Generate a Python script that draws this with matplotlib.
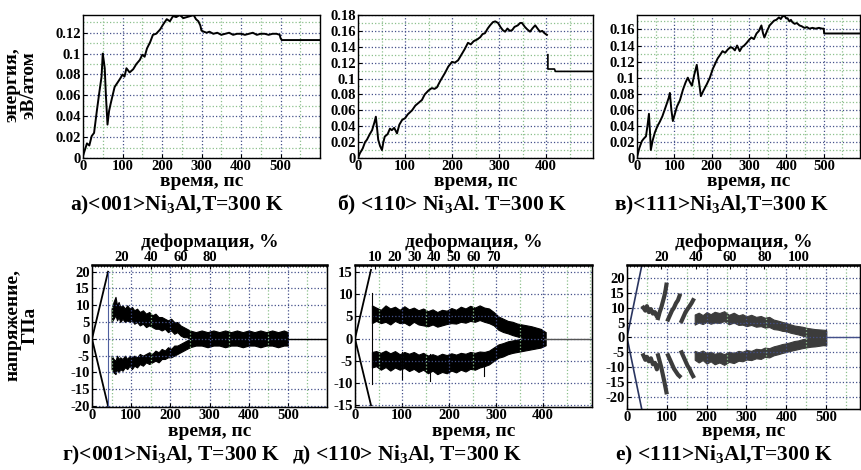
import numpy as np
import matplotlib
matplotlib.use('Agg')
import matplotlib.pyplot as plt
from matplotlib.ticker import MultipleLocator, FuncFormatter

plt.rcParams['font.family'] = ['Liberation Serif', 'DejaVu Serif']
plt.rcParams['font.weight'] = 'bold'
plt.rcParams['mathtext.fontset'] = 'custom'
plt.rcParams['mathtext.rm'] = 'Liberation Serif:bold'
plt.rcParams['mathtext.it'] = 'Liberation Serif:bold'
plt.rcParams['mathtext.default'] = 'rm'

# --- energy curves (time, eV/atom) ---
energy_a = [(0, 0.002), (5, 0.008), (10, 0.014), (16, 0.012), (22, 0.021), (28, 0.024),
            (35, 0.045), (41, 0.062), (47, 0.078), (50, 0.1), (53, 0.092), (55, 0.086),
            (58, 0.06), (62, 0.032), (66, 0.045), (70, 0.052), (75, 0.06), (80, 0.068),
            (87, 0.072), (94, 0.076), (100, 0.08), (105, 0.078), (110, 0.086), (118, 0.082),
            (127, 0.085), (135, 0.09), (144, 0.094), (150, 0.099), (156, 0.097), (162, 0.105),
            (170, 0.111), (177, 0.118), (185, 0.119), (195, 0.123), (203, 0.128), (212, 0.133),
            (220, 0.131), (228, 0.136), (236, 0.135), (245, 0.137), (254, 0.134), (263, 0.135),
            (272, 0.136), (280, 0.137), (286, 0.133), (292, 0.131), (297, 0.127), (300, 0.122),
            (306, 0.121), (313, 0.12), (320, 0.121), (330, 0.119), (340, 0.12), (350, 0.118),
            (360, 0.119), (370, 0.12), (380, 0.118), (390, 0.119), (400, 0.119), (410, 0.118),
            (420, 0.119), (430, 0.12), (440, 0.118), (450, 0.119), (460, 0.119), (470, 0.118),
            (480, 0.119), (490, 0.119), (498, 0.118), (500, 0.115), (503, 0.113), (600, 0.113)]

energy_b = [(0, 0.0), (4, 0.006), (10, 0.012), (15, 0.02), (19, 0.023), (25, 0.03), (30, 0.035),
            (35, 0.045), (38, 0.052), (41, 0.035), (43, 0.023), (47, 0.015), (51, 0.01), (54, 0.02),
            (57, 0.027), (63, 0.03), (68, 0.037), (72, 0.035), (77, 0.038), (83, 0.031), (88, 0.042),
            (94, 0.048), (100, 0.05), (106, 0.055), (115, 0.06), (122, 0.066), (130, 0.07),
            (136, 0.073), (142, 0.08), (150, 0.085), (157, 0.088), (163, 0.087), (168, 0.089),
            (175, 0.097), (180, 0.102), (185, 0.107), (192, 0.115), (200, 0.121), (206, 0.12),
            (213, 0.123), (220, 0.13), (227, 0.137), (234, 0.145), (240, 0.143), (246, 0.147),
            (253, 0.149), (260, 0.152), (265, 0.156), (270, 0.157), (276, 0.163), (281, 0.167),
            (287, 0.171), (292, 0.172), (298, 0.17), (303, 0.165), (308, 0.161), (313, 0.159),
            (318, 0.163), (323, 0.16), (328, 0.161), (333, 0.165), (340, 0.167), (345, 0.17),
            (349, 0.17), (355, 0.165), (360, 0.162), (366, 0.159), (371, 0.163), (377, 0.167),
            (382, 0.163), (387, 0.159), (392, 0.16), (397, 0.157), (402, 0.155)]
energy_b_tail = [(404, 0.13), (404, 0.112), (418, 0.112), (420, 0.109), (500, 0.109)]

energy_c = [(0, 0.001), (6, 0.012), (13, 0.021), (18, 0.024), (24, 0.027), (28, 0.04), (32, 0.055),
            (35, 0.03), (37, 0.01), (42, 0.022), (48, 0.032), (55, 0.04), (61, 0.045), (68, 0.052),
            (74, 0.06), (80, 0.068), (85, 0.075), (88, 0.081), (92, 0.06), (96, 0.046), (102, 0.056),
            (107, 0.064), (115, 0.072), (123, 0.085), (130, 0.094), (136, 0.1), (141, 0.095),
            (147, 0.09), (153, 0.103), (160, 0.116), (165, 0.098), (171, 0.077), (178, 0.084),
            (187, 0.092), (195, 0.1), (203, 0.111), (210, 0.118), (216, 0.124), (222, 0.128),
            (229, 0.133), (236, 0.131), (243, 0.135), (250, 0.138), (256, 0.137), (262, 0.134),
            (268, 0.14), (275, 0.133), (281, 0.138), (287, 0.14), (293, 0.143), (300, 0.147),
            (306, 0.15), (313, 0.148), (320, 0.155), (326, 0.158), (333, 0.165), (337, 0.156),
            (341, 0.15), (348, 0.158), (355, 0.165), (361, 0.168), (367, 0.171), (373, 0.172),
            (380, 0.175), (385, 0.173), (389, 0.176), (395, 0.177), (399, 0.174), (403, 0.174),
            (408, 0.17), (412, 0.172), (416, 0.169), (422, 0.167), (428, 0.168), (435, 0.165),
            (441, 0.164), (448, 0.162), (455, 0.163), (461, 0.161), (470, 0.162), (478, 0.161),
            (487, 0.162), (496, 0.161), (500, 0.161), (501, 0.155), (600, 0.155)]

# --- stress: initial elastic ramps (time, GPa) ---
ramp_d = [(41, 20), (41, -20)]
ramp_e = [(34, 15.5), (34, -15)]
ramp_f = [(40, 26), (40, -26)]

# --- stress bands (time, upper edge, lower edge) ---
band_d_up = [(50, 9, 5), (55, 11, 6), (60, 12.5, 7), (64, 10, 5.5), (68, 11, 6.5), (72, 9.5, 5),
             (78, 10, 6), (84, 9, 5), (90, 10, 5.5), (96, 9, 5), (102, 9.5, 5.5), (108, 8.5, 4.5),
             (115, 9, 5), (122, 8, 4), (130, 8.5, 4.5), (138, 7.5, 3.5), (146, 8, 4), (154, 7, 3.5),
             (162, 7.5, 3), (170, 6.5, 3), (178, 6.5, 2.5), (186, 6, 3), (194, 5.5, 2), (202, 6, 2.5),
             (210, 5, 1.5), (218, 5, 2), (226, 4, 1), (234, 3.5, 0.5), (242, 3, 0.5), (250, 2.5, 0)]
band_d_lo = [(50, -5, -9), (55, -6, -10), (60, -6.5, -10.5), (64, -5, -9), (68, -6, -10),
             (72, -5.5, -9), (78, -6, -9.5), (84, -5, -8.5), (90, -6, -9), (96, -5, -8),
             (102, -5.5, -9), (108, -5, -8), (115, -5.5, -8.5), (122, -4.5, -7.5), (130, -5, -8),
             (138, -4.5, -7), (146, -4, -7.5), (154, -4.5, -7), (162, -3.5, -6.5), (170, -4, -7),
             (178, -3, -6), (186, -3.5, -6), (194, -2.5, -5.5), (202, -3, -5.5), (210, -2, -5),
             (218, -2, -4.5), (226, -1.5, -4), (234, -1, -3.5), (242, -0.5, -3), (250, 0, -2.5)]
band_d_mid = [(250, 2.5, -2.5), (265, 2, -2), (280, 2.5, -2), (295, 2, -2.5), (310, 2.5, -2),
              (325, 2, -2), (340, 2.5, -2.5), (355, 2, -2), (370, 2.5, -2), (385, 2, -2.5),
              (400, 2.5, -2), (415, 2, -2), (430, 2.5, -2.5), (445, 2, -2), (460, 2.5, -2),
              (475, 2, -2.5), (490, 2.5, -2), (500, 2, -2)]

band_e_up = [(36, 7.5, 3.5), (45, 7, 4), (55, 6.5, 3.5), (65, 7.5, 3.8), (75, 6.8, 3.2), (85, 7.2, 4),
             (95, 6.5, 3.5), (105, 7.3, 3.6), (115, 6.6, 3), (125, 7, 3.8), (135, 6.4, 3.2),
             (145, 6.8, 3), (155, 6.2, 2.8), (165, 6.6, 3.2), (175, 6, 2.7), (185, 6.5, 3),
             (195, 6.3, 3.3), (205, 6.9, 3.5), (215, 6.5, 3.4), (225, 7.2, 3.8), (235, 6.8, 3.6),
             (245, 7.4, 4), (255, 7, 3.8), (265, 7.5, 4.2), (275, 7, 3.8), (285, 6.8, 3.5),
             (295, 6, 3), (305, 5, 2), (315, 4.5, 1.5), (325, 4, 1.2), (335, 3.8, 0.8),
             (345, 3.4, 0.5), (355, 3.2, 0.2), (365, 3, 0), (375, 2.8, -0.3), (385, 2.5, -0.5),
             (395, 2.2, -1), (405, 1.5, -1.5)]
band_e_lo = [(36, -3, -6.5), (45, -2.8, -6.2), (55, -3.2, -7), (65, -2.7, -6.4), (75, -3.3, -7.2),
             (85, -2.8, -6.5), (95, -3.5, -7), (105, -3, -6.6), (115, -3.4, -7.3), (125, -3, -6.8),
             (135, -3.6, -7.5), (145, -3.2, -7), (155, -3.8, -7.8), (165, -3.5, -7.2),
             (175, -3.9, -8), (185, -3.4, -7.5), (195, -3.7, -7.8), (205, -3.3, -7.2),
             (215, -3.6, -7.6), (225, -3.2, -7), (235, -3.4, -7.4), (245, -3, -6.8), (255, -3.2, -7),
             (265, -2.9, -6.5), (275, -3, -6.2), (285, -2.7, -5.8), (295, -2, -5), (305, -1.3, -4.3),
             (315, -1, -4), (325, -0.6, -3.5), (335, -0.4, -3.2), (345, -0.2, -3), (355, 0, -2.8),
             (365, 0.2, -2.6), (375, 0.4, -2.4), (385, 0.6, -2.2), (395, 1, -2), (405, 1.5, -1.5)]
spikes_e = [(36, 10.4, -10.2), (100, -3, -9), (160, -3.5, -9.5), (275, -3, -8.5)]

saw_f_up = [[(41, 10), (46, 9), (50, 10.5), (55, 8.5), (60, 9.5), (65, 8), (70, 8.5), (75, 7), (78, 7.5)],
            [(78, 6.5), (82, 8.5), (86, 10), (90, 12), (94, 14), (97, 16), (99, 17.7)],
            [(103, 6), (108, 7.5), (113, 9), (118, 10), (123, 11.5), (128, 12.5), (132, 14)],
            [(137, 5.5), (142, 7), (147, 8.5), (152, 9.5), (157, 10.5), (162, 11.5), (166, 12.5)]]
saw_f_lo = [[(41, -6), (46, -7.5), (50, -6.5), (55, -8), (60, -7), (65, -9), (70, -8.5), (75, -10.7), (78, -9.5)],
            [(78, -6), (82, -8), (86, -10), (90, -12.5), (94, -15), (97, -17), (99, -18.4)],
            [(103, -6), (108, -7.5), (113, -9), (118, -10.5), (123, -11.5), (128, -12.5), (132, -13)],
            [(137, -5), (142, -6.5), (147, -8), (152, -9.5), (157, -10.5), (162, -12), (166, -13)]]
band_f_up = [(170, 7.7, 4.3), (180, 8.3, 5), (190, 7.5, 4.5), (200, 8.5, 5.2), (210, 7.8, 4.6),
             (220, 8.6, 5), (232, 8.2, 4.9), (244, 8.8, 5.5), (256, 7.6, 4.4), (268, 8.3, 5),
             (280, 7.4, 4.2), (290, 7.8, 4.3), (300, 7.1, 3.8), (312, 7.6, 4.2), (324, 6.9, 3.6),
             (336, 7.2, 3.8), (346, 6.6, 3.3), (357, 6.9, 3.5), (368, 6, 2.8), (380, 5.6, 2.6),
             (390, 5.2, 2.2), (399, 4.9, 2.1), (410, 4.4, 1.6), (420, 4, 1.3), (430, 3.8, 1),
             (440, 3.6, 0.6), (452, 3.2, 0.2), (462, 3, -0.5), (472, 2.8, -1.2), (482, 2.7, -2),
             (492, 2.6, -2.5), (500, 2.5, -2.7)]
band_f_lo = [(170, -4.5, -7.5), (180, -5, -8.4), (190, -4.4, -7.6), (200, -5.2, -8.8), (210, -4.8, -8),
             (220, -5.5, -9), (232, -5, -8.4), (244, -5.6, -9.2), (256, -4.8, -8.2), (268, -5.2, -8.6),
             (280, -4.5, -7.8), (290, -4.8, -8), (300, -4.2, -7.4), (312, -4.5, -7.6), (324, -3.8, -7),
             (336, -4, -7.2), (346, -3.4, -6.5), (357, -3.6, -6.7), (368, -3, -6), (380, -2.6, -5.6),
             (390, -2.2, -5.2), (399, -2, -4.9), (410, -1.6, -4.5), (420, -1.2, -4.2), (430, -1, -3.9),
             (440, -0.6, -3.6), (452, -0.3, -3.3), (462, 0.2, -3.1), (472, 0.8, -3), (482, 1.5, -2.8),
             (492, 2, -2.6), (500, 2.3, -2.5)]

# time after which the stress is zero
stress_end = {'d': (500, 600), 'e': (405, 500), 'f': (500, 585)}

# strain (%) per ps on the top axes
strain_rate = {'d': 0.265, 'e': 0.238, 'f': 0.232}
strain_ticks = {'d': [20, 40, 60, 80], 'e': [10, 20, 30, 40, 50, 60, 70], 'f': [20, 40, 60, 80, 100]}

time_ticks = {'a': [0, 100, 200, 300, 400, 500], 'b': [0, 100, 200, 300, 400],
              'c': [0, 100, 200, 300, 400, 500], 'd': [0, 100, 200, 300, 400, 500],
              'e': [0, 100, 200, 300, 400], 'f': [0, 100, 200, 300, 400, 500]}

captions = ['а)<001>Ni$_3$Al,T=300 K', 'б) <110> Ni$_3$Al. T=300 K', 'в)<111>Ni$_3$Al,T=300 K',
            'г)<001>Ni$_3$Al, T=300 K', 'д) <110> Ni$_3$Al, T=300 K', 'е) <111>Ni$_3$Al,T=300 K']

W, H = 861, 470
TICK_FS = 10.5
LABEL_FS = 14


def box(l, r, t, b):
    return [l / W, 1 - b / H, (r - l) / W, (b - t) / H]


def fmt(v, p):
    return '%g' % round(v, 3)


def style(ax, xmax, xticks, ylim, ystep, yticks):
    ax.set_xlim(0, xmax)
    ax.set_ylim(*ylim)
    ax.set_xticks(xticks)
    ax.xaxis.set_minor_locator(MultipleLocator(50))
    ax.set_yticks(yticks)
    ax.yaxis.set_minor_locator(MultipleLocator(ystep))
    ax.yaxis.set_major_formatter(FuncFormatter(fmt))
    ax.grid(which='major', ls=':', color='#44508a', lw=0.9)
    ax.grid(which='minor', ls=':', color='#8cc08c', lw=0.9)
    ax.tick_params(which='both', direction='in', labelsize=TICK_FS, pad=1.5)
    ax.tick_params(which='minor', length=0)
    ax.tick_params(which='major', length=3)
    for lab in ax.get_xticklabels() + ax.get_yticklabels():
        lab.set_fontweight('bold')
    for s in ax.spines.values():
        s.set_linewidth(1.0)


def xy(pts):
    arr = np.array(pts, dtype=float)
    return arr[:, 0], arr[:, 1]


def band(ax, pts, color):
    arr = np.array(pts, dtype=float)
    ax.fill_between(arr[:, 0], arr[:, 2], arr[:, 1], color=color, lw=0.8, edgecolor=color)


fig = plt.figure(figsize=(W / 100, H / 100), dpi=100)

# top row: energy
ax_a = fig.add_axes(box(83, 320, 15, 158))
ax_b = fig.add_axes(box(358, 593, 15, 158))
ax_c = fig.add_axes(box(637, 860, 15, 158))

style(ax_a, 600, time_ticks['a'], (0, 0.137), 0.01, [0, 0.02, 0.04, 0.06, 0.08, 0.1, 0.12])
style(ax_b, 500, time_ticks['b'], (0, 0.18), 0.01,
      [0, 0.02, 0.04, 0.06, 0.08, 0.1, 0.12, 0.14, 0.16, 0.18])
style(ax_c, 597, time_ticks['c'], (0, 0.178), 0.01,
      [0, 0.02, 0.04, 0.06, 0.08, 0.1, 0.12, 0.14, 0.16])

ax_a.plot(*xy(energy_a), color='k', lw=1.4)
ax_b.plot(*xy(energy_b), color='k', lw=1.4)
ax_b.plot(*xy(energy_b_tail), color='k', lw=1.2)
ax_c.plot(*xy(energy_c), color='k', lw=1.4)

# bottom row: stress
ax_d = fig.add_axes(box(92, 327, 265, 407))
ax_e = fig.add_axes(box(355, 592, 265, 407))
ax_f = fig.add_axes(box(627, 860, 265, 409))

style(ax_d, 600, time_ticks['d'], (-20.3, 22), 5, [-20, -15, -10, -5, 0, 5, 10, 15, 20])
style(ax_e, 504, time_ticks['e'], (-15.4, 16.6), 5, [-15, -10, -5, 0, 5, 10, 15])
style(ax_f, 585, time_ticks['f'], (-24, 24.3), 5, [-20, -15, -10, -5, 0, 5, 10, 15, 20])

# panel d
for (t, v) in ramp_d:
    ax_d.plot([0, t], [0, v], color='k', lw=1.3)
ax_d.plot([ramp_d[0][0]] * 2, [ramp_d[0][1], ramp_d[1][1]], color='#5060a0', lw=0.8)
band(ax_d, band_d_up, 'k')
band(ax_d, band_d_lo, 'k')
band(ax_d, band_d_mid, 'k')
ax_d.plot(stress_end['d'], [0, 0], color='k', lw=1.0)

# panel e
for (t, v) in ramp_e:
    ax_e.plot([0, t], [0, v], color='k', lw=1.3)
for (t, hi, lo) in spikes_e:
    ax_e.plot([t, t], [lo, hi], color='k', lw=0.8)
band(ax_e, band_e_up, 'k')
band(ax_e, band_e_lo, 'k')
ax_e.plot(stress_end['e'], [0, 0], color='#555555', lw=1.0)

# panel f
grey = '#3c3c3c'
for (t, v) in ramp_f:
    ax_f.plot([0, t], [0, v], color='#2a3560', lw=1.2)
for seg in saw_f_up + saw_f_lo:
    ax_f.plot(*xy(seg), color=grey, lw=3.0)
band(ax_f, band_f_up, grey)
band(ax_f, band_f_lo, grey)
ax_f.plot(stress_end['f'], [0, 0], color='#44508a', lw=1.0)

# strain axes on top
for key, ax in zip(['d', 'e', 'f'], [ax_d, ax_e, ax_f]):
    top = ax.twiny()
    top.set_xlim(0, ax.get_xlim()[1] * strain_rate[key])
    top.set_xticks(strain_ticks[key])
    top.xaxis.set_minor_locator(MultipleLocator(2))
    top.tick_params(which='both', direction='in', labelsize=TICK_FS, pad=1)
    top.tick_params(which='major', length=3)
    top.tick_params(which='minor', length=1.5)
    top.spines['top'].set_linewidth(1.8)
    for lab in top.get_xticklabels():
        lab.set_fontweight('bold')

# texts
for ax in [ax_a, ax_b, ax_c]:
    pos = ax.get_position()
    fig.text(pos.x0 + pos.width / 2, 1 - 181 / H, 'время, пс', ha='center', va='center',
             fontsize=LABEL_FS, fontweight='bold')
for ax in [ax_d, ax_e, ax_f]:
    pos = ax.get_position()
    fig.text(pos.x0 + pos.width / 2, 1 - 432 / H, 'время, пс', ha='center', va='center',
             fontsize=LABEL_FS, fontweight='bold')
    fig.text(pos.x0 + pos.width / 2, 1 - 242 / H, 'деформация, %', ha='center', va='center',
             fontsize=LABEL_FS, fontweight='bold')

cap_x = [70, 337, 614, 62, 292, 615]
cap_y = [205, 205, 205, 455, 455, 455]
for txt, x, y in zip(captions, cap_x, cap_y):
    fig.text(x / W, 1 - y / H, txt, ha='left', va='center', fontsize=15.5, fontweight='bold')

fig.text(21 / W, 1 - 85 / H, 'энергия,\nэВ/атом', rotation=90, ha='center', va='center',
         fontsize=LABEL_FS, fontweight='bold', multialignment='center', linespacing=1.0)
fig.text(22 / W, 1 - 325 / H, 'напряжение,\nГПа', rotation=90, ha='center', va='center',
         fontsize=LABEL_FS, fontweight='bold', multialignment='center', linespacing=1.0)

fig.savefig('out.png', dpi=100)
